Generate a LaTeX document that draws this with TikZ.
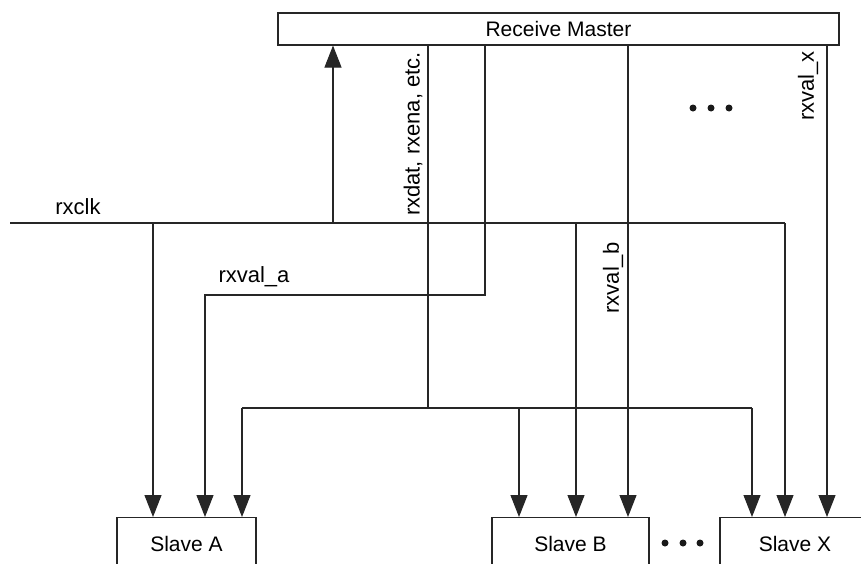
\documentclass[tikz,border=0pt]{standalone}
\usepackage{fontspec}
\setmainfont{Liberation Sans}
\usetikzlibrary{arrows.meta}

\begin{document}
\begin{tikzpicture}[x=1pt,y=-1pt,
  wire/.style={line width=1.1pt, draw=black!85},
  arr/.style={wire, -{Triangle[length=22pt,width=17pt]}},
  blk/.style={draw=black!85, line width=1.1pt, rectangle, inner sep=0pt,
              font=\fontsize{21}{24}\selectfont},
  sig/.style={font=\fontsize{22}{25}\selectfont, inner sep=0pt},
  dot/.style={circle, fill=black!90, minimum size=7pt, inner sep=0pt}]

\useasboundingbox (0,0) rectangle (861,563);
\clip (0,0) rectangle (861,563);

% master and slave blocks
\node[blk, minimum width=561pt, minimum height=32pt] (master) at (558.5,29) {Receive Master};
\node[blk, minimum width=139pt, minimum height=52pt, anchor=north] (slaveA) at (186.5,517) {Slave A};
\node[blk, minimum width=157pt, minimum height=52pt, anchor=north] (slaveB) at (570.5,517) {Slave B};
\node[blk, minimum width=150pt, minimum height=52pt, anchor=north] (slaveX) at (795,517) {Slave X};

% rxclk bus
\coordinate (clkL) at (10,223);
\coordinate (clkR) at (785,223);
\coordinate (clkM) at (333,223);
\coordinate (clkA) at (153,223);
\coordinate (clkB) at (576,223);
\draw[wire] (clkL) -- (clkR);
\draw[arr] (clkM) -- (clkM |- master.south);
\draw[arr] (clkA) -- (clkA |- slaveA.north);
\draw[arr] (clkB) -- (clkB |- slaveB.north);
\draw[arr] (clkR) -- (clkR |- slaveX.north);

% shared data bus
\coordinate (datTop) at (428,45);
\coordinate (datJ) at (428,408);
\coordinate (busL) at (242,408);
\coordinate (busB) at (519,408);
\coordinate (busR) at (752,408);
\draw[wire] (datTop) -- (datJ);
\draw[wire] (busL) -- (busR);
\draw[arr] (busL) -- (busL |- slaveA.north);
\draw[arr] (busB) -- (busB |- slaveB.north);
\draw[arr] (busR) -- (busR |- slaveX.north);

% per-slave valid lines
\coordinate (vaTop) at (485,45);
\coordinate (vaBend) at (485,295);
\coordinate (vaDown) at (205,295);
\draw[arr] (vaTop) -- (vaBend) -- (vaDown) -- (vaDown |- slaveA.north);
\coordinate (vbTop) at (628,45);
\draw[arr] (vbTop) -- (vbTop |- slaveB.north);
\coordinate (vxTop) at (827,45);
\draw[arr] (vxTop) -- (vxTop |- slaveX.north);

% signal names
\node[sig] (lclk) at (78,207) {rxclk};
\node[sig] (lva) at (254,277) {rxval\_a};
\node[sig, rotate=90] (ldat) at (413,134) {rxdat, rxena, etc.};
\node[sig, rotate=90] (lvb) at (613,278) {rxval\_b};
\node[sig, rotate=90] (lvx) at (808,86) {rxval\_x};

% ellipses
\node[dot] (d1) at (693,108) {};
\node[dot] (d2) at (711,108) {};
\node[dot] (d3) at (729,108) {};
\node[dot] (e1) at (665,543) {};
\node[dot] (e2) at (683,543) {};
\node[dot] (e3) at (700,543) {};
\end{tikzpicture}
\end{document}
